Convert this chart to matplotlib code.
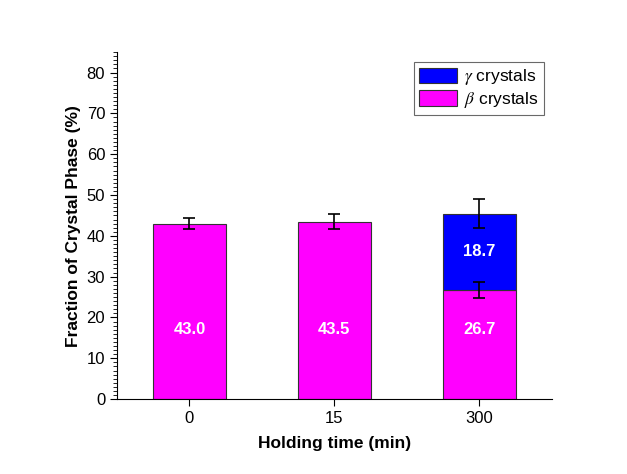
import matplotlib.pyplot as plt
import numpy as np
from matplotlib.ticker import MultipleLocator

plt.rcParams['font.family'] = ['Liberation Sans', 'DejaVu Sans']
plt.rcParams['mathtext.fontset'] = 'stix'

times = ['0', '15', '300']
beta = [43.0, 43.5, 26.7]
beta_err = [1.4, 1.9, 1.9]
gamma = [0.0, 0.0, 18.7]
gamma_err = [0.0, 0.0, 3.6]

magenta = '#ff00ff'
blue = '#0000ff'

fig = plt.figure(figsize=(6.27, 4.74), dpi=100)
ax = fig.add_axes([0.1866, 0.158, 0.6934, 0.732])

x = np.arange(len(times))
w = 0.5
ax.bar(x, beta, w, color=magenta, edgecolor='#333333', linewidth=0.8,
       label=r'$\beta$ crystals', zorder=2)
ax.bar(x[2:], gamma[2:], w, bottom=beta[2:], color=blue, edgecolor='#333333',
       linewidth=0.8, label=r'$\gamma$ crystals', zorder=2)

ax.errorbar(x, beta, yerr=beta_err, fmt='none', ecolor='black', elinewidth=1.2,
            capsize=4, capthick=1.2, zorder=3)
tops = np.array(beta) + np.array(gamma)
ax.errorbar(x[2:], tops[2:], yerr=gamma_err[2:], fmt='none', ecolor='black',
            elinewidth=1.2, capsize=4, capthick=1.2, zorder=3)

for i in range(len(times)):
    ax.text(x[i], 17, f'{beta[i]:.1f}', color='white', fontweight='bold',
            fontsize=12, ha='center', va='center', zorder=4)
    if gamma[i] > 0:
        ax.text(x[i], beta[i] + gamma[i] / 2, f'{gamma[i]:.1f}', color='white',
                fontweight='bold', fontsize=12, ha='center', va='center', zorder=4)

ax.set_xlim(-0.5, 2.5)
ax.set_ylim(0, 85)
ax.set_xticks(x)
ax.set_xticklabels(times)
ax.yaxis.set_major_locator(MultipleLocator(10))
ax.yaxis.set_minor_locator(MultipleLocator(1))
ax.spines['top'].set_visible(False)
ax.spines['right'].set_visible(False)
ax.tick_params(axis='both', labelsize=12, direction='out')
ax.tick_params(axis='y', which='major', length=5)
ax.tick_params(axis='y', which='minor', length=3)
ax.tick_params(axis='x', length=5)

ax.set_xlabel('Holding time (min)', fontsize=12.5, fontweight='bold', labelpad=7)
ax.set_ylabel('Fraction of Crystal Phase (%)', fontsize=12.5, fontweight='bold', labelpad=4)

handles, labels = ax.get_legend_handles_labels()
leg = ax.legend(handles[::-1], labels[::-1], loc='upper right',
                bbox_to_anchor=(0.982, 0.971), borderaxespad=0, fontsize=12.5,
                frameon=True, fancybox=False, edgecolor='#444444',
                handlelength=2.2, handleheight=1.0, handletextpad=0.4,
                borderpad=0.3, labelspacing=0.15)
leg.get_frame().set_linewidth(0.8)

fig.savefig('out.png', dpi=100)
